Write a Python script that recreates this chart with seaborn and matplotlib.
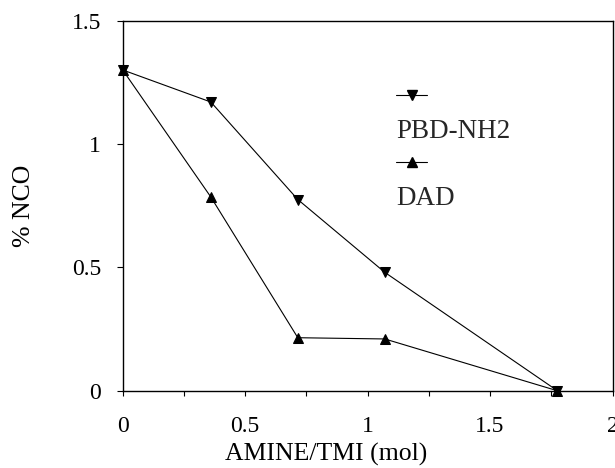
import matplotlib
matplotlib.use("Agg")
import glob
import numpy as np
import pandas as pd
import matplotlib.pyplot as plt
import seaborn as sns
from matplotlib import font_manager as fm
from matplotlib.lines import Line2D
from matplotlib.ticker import MultipleLocator, FuncFormatter

# ── Data ──────────────────────────────────────────────────────────────────────
amine_ratio = [0.0, 0.36, 0.715, 1.07, 1.775]
nco_pbd     = [1.30, 1.17, 0.775, 0.48, 0.0]
nco_dad     = [1.30, 0.785, 0.215, 0.21, 0.0]
series      = ["PBD-NH2", "DAD"]
markers     = {"PBD-NH2": "v", "DAD": "^"}
x_ticks     = [0, 0.5, 1, 1.5, 2]
y_ticks     = [0, 0.5, 1, 1.5]

df = pd.DataFrame({
    "ratio":  amine_ratio + amine_ratio,
    "nco":    nco_pbd + nco_dad,
    "series": [series[0]] * len(nco_pbd) + [series[1]] * len(nco_dad),
})

# ── Style ─────────────────────────────────────────────────────────────────────
sns.set_theme(style="ticks")
# make sure the Times-like Liberation Serif is registered
for path in glob.glob("/usr/share/fonts/**/LiberationSerif-*.ttf", recursive=True):
    fm.fontManager.addfont(path)
plt.rcParams["font.family"] = ["Liberation Serif", "DejaVu Serif"]

fig = plt.figure(figsize=(6.15, 4.68), dpi=100)
ax = fig.add_axes([0.1995, 0.165, 0.7965, 0.791])

sns.lineplot(data=df, x="ratio", y="nco", hue="series", style="series",
             markers=markers, dashes=False, palette=["black", "black"],
             linewidth=0.8, markersize=6.5, markeredgecolor="black",
             sort=False, legend=False, clip_on=False, ax=ax)

ax.set_xlim(0, 2)
ax.set_ylim(0, 1.5)
ax.set_xticks(x_ticks)
ax.set_yticks(y_ticks)
ax.xaxis.set_minor_locator(MultipleLocator(0.25))
fmt = FuncFormatter(lambda v, _: f"{v:g}")
ax.xaxis.set_major_formatter(fmt)
ax.yaxis.set_major_formatter(fmt)

ax.tick_params(axis="both", which="both", direction="out", color="black",
               width=0.8, labelsize=17, labelcolor="black")
ax.tick_params(axis="x", which="both", length=3.5, pad=15)
ax.tick_params(axis="y", which="major", length=4.5, pad=11)
for sp in ax.spines.values():
    sp.set_visible(True)
    sp.set_color("black")
    sp.set_linewidth(1.0)

ax.set_xlabel("AMINE/TMI (mol)", fontsize=18.5, color="black")
ax.set_ylabel("% NCO", fontsize=18.5, color="black")
ax.xaxis.set_label_coords(0.415, -0.14)
ax.yaxis.set_label_coords(-0.18, 0.5)

# legend: marker row above each label, text left-aligned with the handle
h_pbd = Line2D([], [], color="black", lw=0.8, marker="v", markersize=6.5)
h_dad = Line2D([], [], color="black", lw=0.8, marker="^", markersize=6.5)
blank = Line2D([], [], linestyle="none")
ax.legend([h_pbd, blank, h_dad, blank], ["", series[0], "", series[1]],
          loc="upper left", bbox_to_anchor=(0.558, 0.826), frameon=False,
          fontsize=19.5, handlelength=1.15, handletextpad=-1.15,
          labelspacing=0.32, borderpad=0, borderaxespad=0)

fig.savefig("out.png", dpi=100)
plt.close(fig)
